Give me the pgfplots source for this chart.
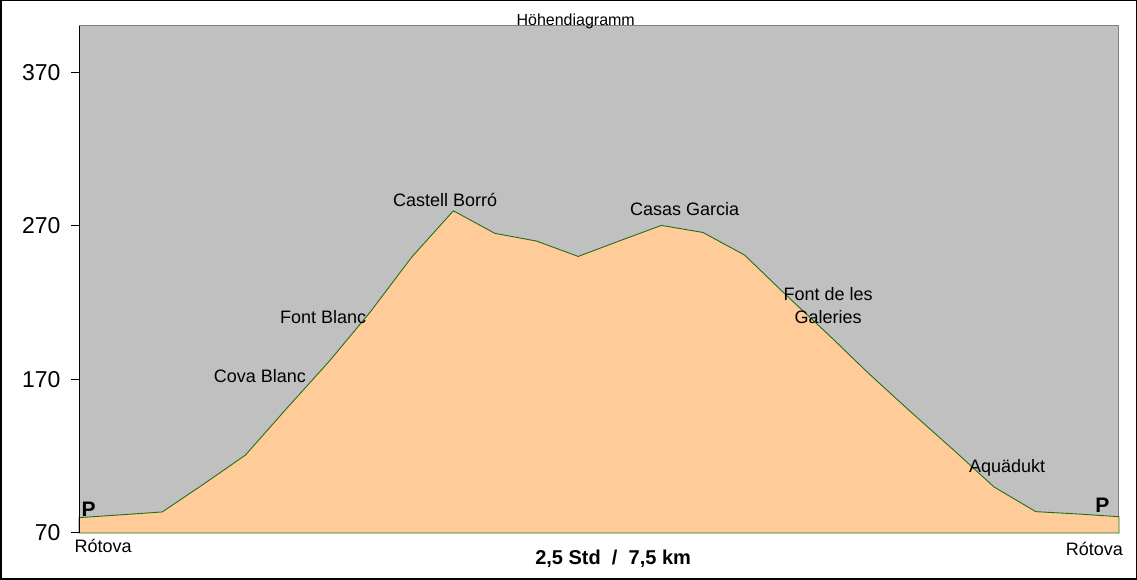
\documentclass[border=0pt]{standalone}
\usepackage{fontspec}
\setmainfont{Liberation Sans}
\usepackage{pgfplots}
\pgfplotsset{compat=1.18}
\definecolor{bggray}{RGB}{192,192,192}
\definecolor{peach}{RGB}{255,204,153}
\definecolor{lgreen}{RGB}{34,110,24}
\begin{document}
\begin{tikzpicture}[x=1pt,y=1pt]
\useasboundingbox (0,0) rectangle (1137,580);
\draw[line width=1.5pt] (0.75,0.75) rectangle (1136.25,579.25);
\begin{axis}[
  at={(79pt,47pt)}, anchor=south west,
  scale only axis, width=1040pt, height=507pt,
  xmin=0, xmax=25, ymin=70, ymax=400,
  xtick=\empty,
  ytick={70,170,270,370},
  tick align=outside, major tick length=8pt,
  axis y line*=left, axis x line*=bottom,
  x axis line style={draw=none},
  y axis line style={black, line width=1pt},
  tick style={black, line width=1pt},
  axis background/.style={fill=bggray, draw=gray, line width=1pt},
  clip=false,
  /pgf/number format/assume math mode=true,
  yticklabel style={font=\fontsize{23}{23}\selectfont, xshift=-7pt},
  axis on top,
]
\addplot[fill=peach, draw=lgreen, line width=0.9pt] table[row sep=\\] {
x y\\
0 80.0\\
1 81.8\\
2 83.7\\
3 101.9\\
4 120.7\\
5 151.3\\
6 181.3\\
7 213.8\\
8 249.6\\
9 279.7\\
10 265.0\\
11 260.0\\
12 250.0\\
13 260.2\\
14 270.2\\
15 265.6\\
16 250.9\\
17 224.8\\
18 199.5\\
19 173.4\\
20 148.7\\
21 124.6\\
22 99.9\\
23 83.9\\
24 82.4\\
25 80.6\\
} \closedcycle;
\begin{scope}[every node/.style={anchor=base, font=\fontsize{18}{20}\selectfont, inner sep=0pt}]
\node at (axis cs:8.80,282.8) {Castell Borró};
\node at (axis cs:14.56,276.4) {Casas Garcia};
\node at (axis cs:5.87,206.4) {Font Blanc};
\node at (axis cs:4.35,167.8) {Cova Blanc};
\node at (axis cs:18.01,221.1) {Font de les};
\node at (axis cs:18.01,206.4) {Galeries};
\node at (axis cs:22.31,109.5) {Aquädukt};
\node at (axis cs:0.23,80.6) {\fontsize{21}{22}\selectfont\bfseries P};
\node at (axis cs:24.60,83.2) {\fontsize{21}{22}\selectfont\bfseries P};
\node at (axis cs:0.58,57.2) {Rótova};
\node at (axis cs:24.41,55.2) {Rótova};
\node at (axis cs:12.84,49.2) {\fontsize{20}{22}\selectfont\bfseries 2,5 Std\ \ /\ \ 7,5 km};
\node at (axis cs:11.94,400.5) {\fontsize{16}{18}\selectfont Höhendiagramm};
\end{scope}
\end{axis}
\end{tikzpicture}
\end{document}
